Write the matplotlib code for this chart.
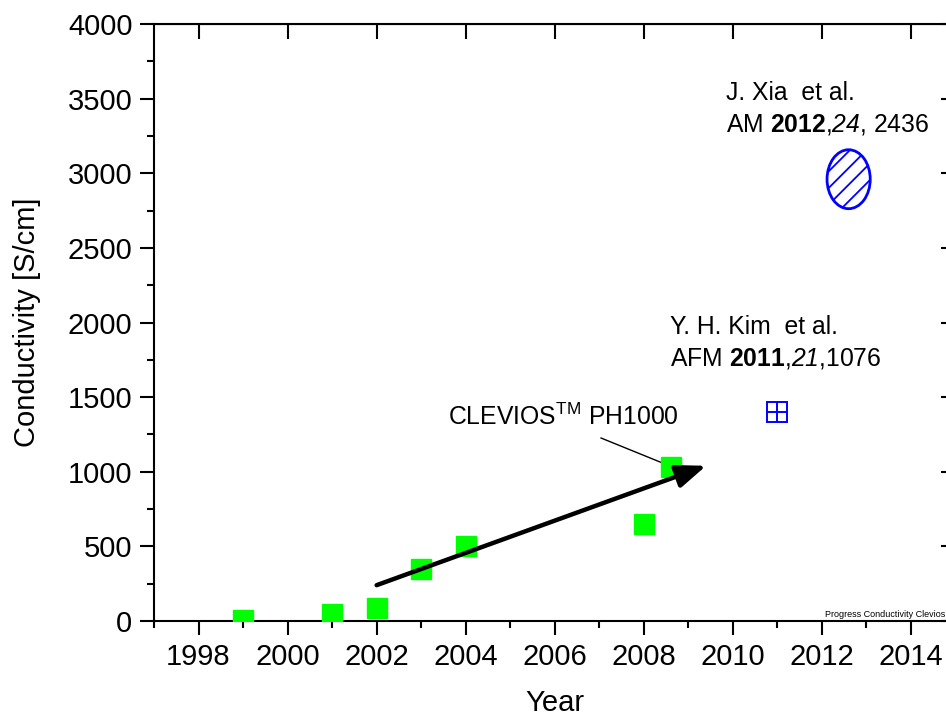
import numpy as np
from matplotlib import pyplot as plt
from matplotlib.patches import Ellipse

plt.rcParams['font.family'] = ['Liberation Sans', 'DejaVu Sans']
plt.rcParams['mathtext.fontset'] = 'custom'
plt.rcParams['mathtext.rm'] = 'Liberation Sans'
plt.rcParams['mathtext.sf'] = 'Liberation Sans:italic'
plt.rcParams['mathtext.bf'] = 'Liberation Sans:bold'
plt.rcParams['hatch.linewidth'] = 1.3

# Dane
lata_clevios = [1999, 2001, 2002, 2003, 2004, 2008, 2008.6]
przewodnosc_clevios = [10, 50, 85, 350, 500, 650, 1030]
kim_rok, kim_wartosc = [2011.0], [1400]
xia_rok, xia_wartosc = 2012.6, 2960
xia_szer, xia_wys = 0.97, 395
strzalka_start = (2002.0, 240)
strzalka_koniec = (2009.4, 1040)

fig = plt.figure(figsize=(9.46, 7.18), dpi=100)
ax = fig.add_axes([154 / 946, 97 / 718, 801.5 / 946, 597 / 718])

ax.plot(lata_clevios, przewodnosc_clevios, 's', color='#00ff00', markersize=15, zorder=3)
ax.plot(kim_rok, kim_wartosc, 's', color='blue', fillstyle='none', markersize=14, mew=1.4)
ax.plot(kim_rok, kim_wartosc, '+', color='blue', markersize=14, mew=1.4)

elipsa = Ellipse((xia_rok, xia_wartosc), xia_szer, xia_wys, facecolor='none',
                 edgecolor='blue', linewidth=2, hatch='//')
ax.add_patch(elipsa)

ax.annotate('', xy=strzalka_koniec, xytext=strzalka_start,
            arrowprops=dict(arrowstyle='-|>,head_length=0.9,head_width=0.35',
                            color='black', lw=3.2, mutation_scale=20, shrinkA=0, shrinkB=0))
ax.plot([2007.04, 2008.64], [1226, 1032], color='black', lw=1)

fs = 17.8
ax.text(2003.6, 1313, r'CLEVIOS$^{\mathrm{TM}}$ PH1000', fontsize=fs)
ax.text(2008.58, 1923, 'Y. H. Kim  et al.', fontsize=fs)
ax.text(2008.58, 1715, r'AFM $\mathbf{2011}$,$\mathsf{21}$,1076', fontsize=fs)
ax.text(2009.84, 3491, 'J. Xia  et al.', fontsize=fs)
ax.text(2009.84, 3283, r'AM $\mathbf{2012}$,$\mathsf{24}$, 2436', fontsize=fs)
ax.text(2014.76, 27, 'Progress Conductivity Clevios', fontsize=6.5, ha='right')

ax.set_xlim(1997, 2015)
ax.set_ylim(0, 4000)
ax.set_xticks(np.arange(1998, 2015, 2))
ax.set_xticks(np.arange(1997, 2016, 1), minor=True)
ax.set_yticks(np.arange(0, 4001, 500))
ax.set_yticks(np.arange(0, 4001, 250), minor=True)
ax.tick_params(which='major', direction='out', length=10, width=1.5, labelsize=21)
ax.tick_params(which='minor', direction='out', length=5, width=1.5)
ax.tick_params(axis='x', which='major', pad=5.5)
ax.tick_params(axis='y', which='major', pad=5.5)
for s in ax.spines.values():
    s.set_linewidth(1.5)

# Osie gorna i prawa - tylko glowne znaczniki do srodka
ax_top = ax.secondary_xaxis('top')
ax_top.set_xticks(np.arange(1998, 2015, 2))
ax_top.tick_params(direction='in', length=11, width=1.5, labeltop=False)
ax_right = ax.secondary_yaxis('right')
ax_right.set_yticks(np.arange(0, 4001, 500))
ax_right.tick_params(direction='in', length=11, width=1.5, labelright=False)

ax.set_xlabel('Year', fontsize=21, labelpad=13)
ax.set_ylabel('Conductivity [S/cm]', fontsize=21, labelpad=19)

plt.savefig('out.png', dpi=100)
